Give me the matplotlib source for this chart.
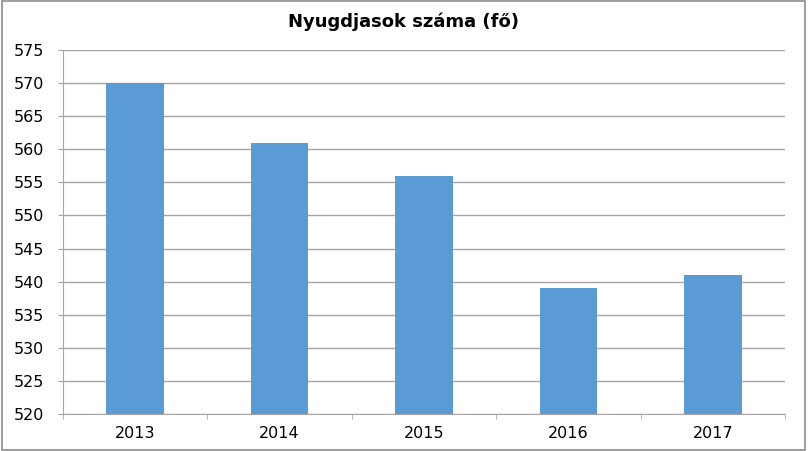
import matplotlib
matplotlib.use("Agg")
import matplotlib.pyplot as plt
from matplotlib.patches import Rectangle

years = ["2013", "2014", "2015", "2016", "2017"]
values = [570, 561, 556, 539, 541]
title = "Nyugdjasok száma (fő)"
yticks = list(range(520, 576, 5))

fig = plt.figure(figsize=(8.08, 4.51), dpi=100)
ax = fig.add_axes([63/808, 1-414/451, (785-63)/808, (414-50)/451])

x = list(range(len(years)))
ax.bar(x, values, width=0.4, color="#5B9BD5", zorder=3)
ax.set_xlim(-0.5, len(years)-0.5)
ax.set_ylim(520, 575)
ax.set_yticks(yticks)
ax.set_yticklabels([str(v) for v in yticks], fontsize=11.5)
ax.yaxis.grid(True, color="#A6A6A6", linewidth=1.0, zorder=0)
ax.set_axisbelow(True)

ax.set_xticks(x)
ax.set_xticklabels(years, fontsize=11.5)
ax.tick_params(axis="x", which="major", length=0, pad=9)
ax.set_xticks([i - 0.5 for i in range(len(years)+1)], minor=True)
ax.tick_params(axis="x", which="minor", length=3.6, color="#A6A6A6", direction="out")
ax.tick_params(axis="y", length=3.6, color="#A6A6A6", pad=10)

for s in ["top", "right"]:
    ax.spines[s].set_visible(False)
for s in ["left", "bottom"]:
    ax.spines[s].set_color("#A6A6A6")

fig.text(0.5, 1-22/451, title, ha="center", va="center", fontsize=13, fontweight="bold")

fig.patches.append(Rectangle((0.002, 0.003), 0.994, 0.994, transform=fig.transFigure,
                             fill=False, edgecolor="#8C8C8C", linewidth=1.2))

fig.savefig("out.png", dpi=100)
